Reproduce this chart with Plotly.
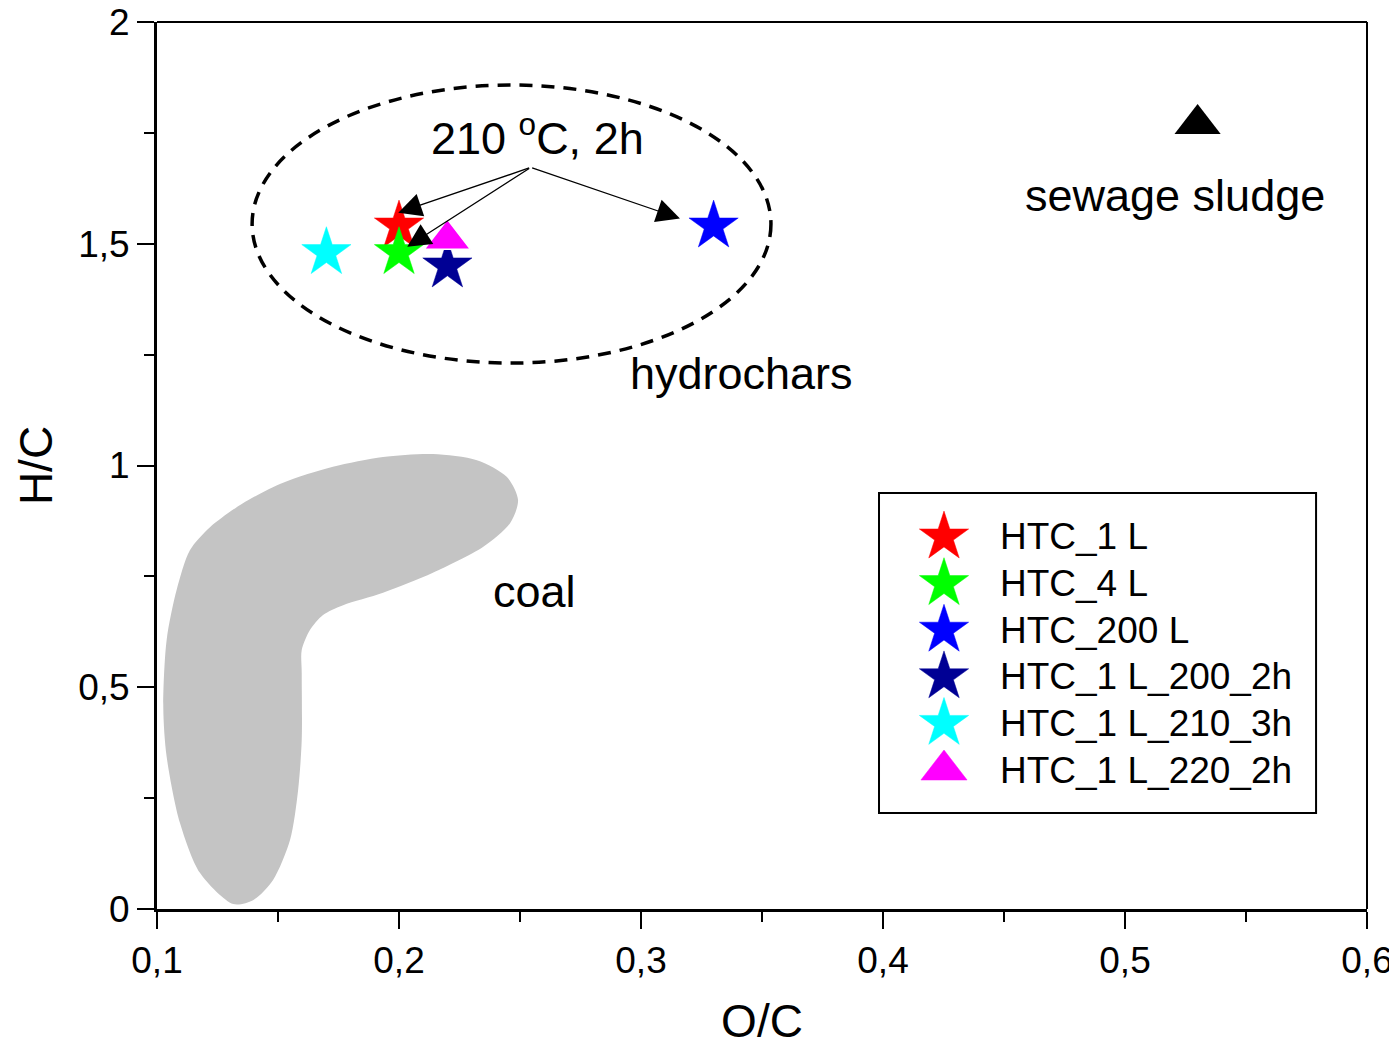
import plotly.graph_objects as go

# ---------------- data ----------------
series_names = ['HTC_1 L', 'HTC_4 L', 'HTC_200 L', 'HTC_1 L_200_2h', 'HTC_1 L_210_3h', 'HTC_1 L_220_2h']
oc_values = [0.20, 0.20, 0.33, 0.22, 0.17, 0.22]
hc_values = [1.54, 1.48, 1.54, 1.45, 1.48, 1.51]
series_symbols = ['star', 'star', 'star', 'star', 'star', 'triangle-up']
series_colors = ['#FF0000', '#00FF00', '#0000FF', '#000094', '#00FFFF', '#FF00FF']

sludge_oc = [0.53]
sludge_hc = [1.77]

coal_oc = [0.1315, 0.1178, 0.1095, 0.1040, 0.1026, 0.1040, 0.1081, 0.1136, 0.1219, 0.1355,
           0.1521, 0.1727, 0.1934, 0.2140, 0.2322, 0.2446, 0.2492, 0.2459, 0.2347, 0.2140,
           0.1934, 0.1769, 0.1686, 0.1632, 0.1598, 0.1598, 0.1598, 0.1583, 0.1550, 0.1479,
           0.1397, 0.1315]
coal_hc = [0.011, 0.081, 0.194, 0.343, 0.455, 0.607, 0.719, 0.809, 0.861, 0.915,
           0.961, 0.997, 1.019, 1.026, 1.012, 0.974, 0.922, 0.870, 0.816, 0.758,
           0.713, 0.685, 0.663, 0.629, 0.584, 0.532, 0.381, 0.268, 0.156, 0.065,
           0.020, 0.011]

x_tickvals = [0.1, 0.2, 0.3, 0.4, 0.5, 0.6]
x_ticktext = ['0,1', '0,2', '0,3', '0,4', '0,5', '0,6']
x_minor = [0.15, 0.25, 0.35, 0.45, 0.55]
y_tickvals = [0, 0.5, 1, 1.5, 2]
y_ticktext = ['0', '0,5', '1', '1,5', '2']
y_minor = [0.25, 0.75, 1.25, 1.75]

# arrows: tail -> tips (highlighting the 210 °C, 2h samples)
arrow_tail = (0.2544, 1.672)
arrow_tips = [(0.1997, 1.570), (0.2034, 1.493), (0.3161, 1.557)]

FONT = 'Arial, Liberation Sans, sans-serif'
STAR_SIZE = 37
TRI_SIZE = 40

fig = go.Figure()

# coal region
fig.add_trace(go.Scatter(
    x=coal_oc, y=coal_hc, mode='lines', fill='toself',
    fillcolor='#C4C4C4', line=dict(color='#C4C4C4', width=0, shape='spline', smoothing=0.8),
    hoverinfo='skip', showlegend=False))

# samples
for name, x, y, sym, col in zip(series_names, oc_values, hc_values, series_symbols, series_colors):
    is_tri = sym.startswith('triangle')
    fig.add_trace(go.Scatter(
        x=[x], y=[y], mode='markers', name=name,
        marker=dict(symbol=sym, size=TRI_SIZE if is_tri else STAR_SIZE, color=col,
                    line=dict(color='white' if is_tri else col, width=1.5 if is_tri else 0.5)),
        showlegend=False))

# sewage sludge
fig.add_trace(go.Scatter(
    x=sludge_oc, y=sludge_hc, mode='markers', name='sewage sludge',
    marker=dict(symbol='triangle-up', size=TRI_SIZE, color='black'), showlegend=False))

# custom legend (on auxiliary axes inside the legend box)
LEG_X0, LEG_X1, LEG_Y0, LEG_Y1 = 0.5967, 0.9579, 0.1082, 0.469
for i, (name, sym, col) in enumerate(zip(series_names, series_symbols, series_colors)):
    is_tri = sym.startswith('triangle')
    fig.add_trace(go.Scatter(
        x=[0.1487], y=[i], mode='markers', xaxis='x2', yaxis='y2',
        marker=dict(symbol=sym, size=TRI_SIZE if is_tri else STAR_SIZE, color=col,
                    line=dict(color=col, width=0.5)),
        hoverinfo='skip', showlegend=False))
    fig.add_annotation(x=0.2723, y=i, xref='x2', yref='y2', text=name, showarrow=False,
                       xanchor='left', yanchor='middle',
                       font=dict(family=FONT, size=37, color='black'))

# ellipse around hydrochars
fig.add_shape(type='circle', xref='x', yref='y', x0=0.1393, x1=0.3537, y0=1.231, y1=1.858,
              line=dict(color='black', width=3.5, dash='13px,9px'))

# legend box & frame lines
fig.add_shape(type='rect', xref='paper', yref='paper', x0=LEG_X0, x1=LEG_X1, y0=LEG_Y0, y1=LEG_Y1,
              line=dict(color='black', width=2))
fig.add_shape(type='line', xref='paper', yref='paper', x0=0, x1=1, y0=1, y1=1,
              line=dict(color='black', width=2))
fig.add_shape(type='line', xref='paper', yref='paper', x0=1, x1=1, y0=0, y1=1,
              line=dict(color='black', width=2))

# arrows
for tx, ty in arrow_tips:
    fig.add_annotation(x=tx, y=ty, ax=arrow_tail[0], ay=arrow_tail[1], xref='x', yref='y',
                       axref='x', ayref='y', showarrow=True, arrowhead=2, arrowsize=3.6,
                       arrowwidth=1.3, arrowcolor='black', text='')

# text labels
labels = [
    ('210 <sup>o</sup>C, 2h', 0.2574, 1.745),
    ('hydrochars', 0.3415, 1.208),
    ('sewage sludge', 0.5205, 1.608),
    ('coal', 0.2558, 0.715),
]
for txt, x, y in labels:
    fig.add_annotation(x=x, y=y, xref='x', yref='y', text=txt, showarrow=False,
                       xanchor='center', yanchor='middle',
                       font=dict(family=FONT, size=45, color='black'))

axis_common = dict(showgrid=False, zeroline=False, showline=True, linewidth=3, linecolor='black',
                   ticks='outside', ticklen=17, tickwidth=2, tickcolor='black', automargin=False,
                   ticklabeloverflow='allow',
                   tickfont=dict(family=FONT, size=37, color='black'))

fig.update_layout(
    width=1397, height=1045,
    margin=dict(l=149, r=38, t=14, b=144),
    paper_bgcolor='white', plot_bgcolor='white',
    font=dict(family=FONT, color='black'),
    showlegend=False,
    xaxis=dict(range=[0.1, 0.6], tickmode='array', tickvals=x_tickvals, ticktext=x_ticktext,
               minor=dict(tickmode='array', tickvals=x_minor, ticks='outside', ticklen=10,
                          tickwidth=2, tickcolor='black'),
               title=dict(text='O/C', font=dict(family=FONT, size=46), standoff=25),
               **axis_common),
    yaxis=dict(range=[0, 2], tickmode='array', tickvals=y_tickvals, ticktext=y_ticktext,
               minor=dict(tickmode='array', tickvals=y_minor, ticks='outside', ticklen=10,
                          tickwidth=2, tickcolor='black'),
               title=dict(text='H/C', font=dict(family=FONT, size=46), standoff=12),
               **axis_common),
    xaxis2=dict(domain=[LEG_X0, LEG_X1], anchor='y2', range=[0, 1], visible=False),
    yaxis2=dict(domain=[LEG_Y0, LEG_Y1], anchor='x2', range=[5.923, -0.944], visible=False),
)

fig.write_html('out.html')
